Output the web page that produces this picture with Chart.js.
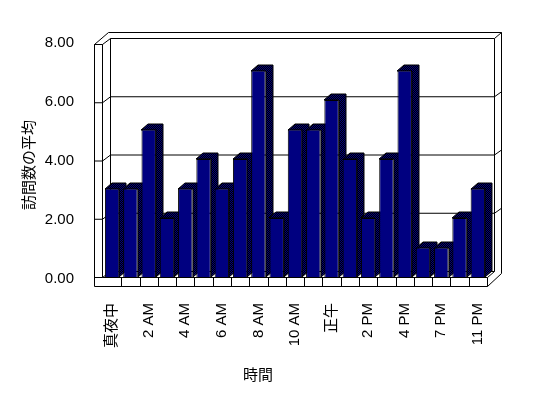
<!DOCTYPE html>
<html>
<head>
<meta charset="utf-8">
<script src="https://cdn.jsdelivr.net/npm/chart.js@4/dist/chart.umd.min.js"></script>
<style>
  html, body { margin: 0; padding: 0; background: #ffffff; }
  #wrap { width: 548px; height: 398px; }
</style>
</head>
<body>
<div id="wrap"><canvas id="chart" width="548" height="398"></canvas></div>
<script>
// categories (hours) and the average visit counts
const hours = ['真夜中', '1 AM', '2 AM', '3 AM', '4 AM', '5 AM', '6 AM', '7 AM', '8 AM', '9 AM',
               '10 AM', '11 AM', '正午', '1 PM', '2 PM', '3 PM', '4 PM', '6 PM', '7 PM', '9 PM', '11 PM'];
const visits = [3, 3, 5, 2, 3, 4, 3, 4, 7, 2, 5, 5, 6, 4, 2, 4, 7, 1, 1, 2, 3];
const yTicks = [0, 2, 4, 6, 8];

const yTitle = '訪問数の平均';
const xTitle = '時間';

const NAVY = '#000080';
const FONT = '"Liberation Sans", Arial, "Noto Sans CJK JP", sans-serif';

// dithered navy/black used for the bar tops and sides
function ditherPattern(ctx) {
    const c = document.createElement('canvas');
    c.width = 2; c.height = 2;
    const p = c.getContext('2d');
    p.fillStyle = '#000000';
    p.fillRect(0, 0, 2, 2);
    p.fillStyle = NAVY;
    p.fillRect(0, 0, 1, 1);
    p.fillRect(1, 1, 1, 1);
    return ctx.createPattern(c, 'repeat');
}

function line(ctx, x1, y1, x2, y2) {
    ctx.beginPath();
    ctx.moveTo(x1, y1);
    ctx.lineTo(x2, y2);
    ctx.stroke();
}

// 3D frame (walls, floor) plus bar tops and sides, drawn behind the bar fronts
const frame3d = {
    id: 'frame3d',
    beforeDatasetsDraw(chart) {
        const ctx = chart.ctx;
        const x = chart.scales.x, y = chart.scales.y;
        const a = chart.chartArea;
        const front = v => y.getPixelForValue(v) + v * 0.375;
        const back = v => front(v) - 6;
        const fl = a.left - 9, fi = a.left - 1, bl = a.left + 7;
        const br = a.right + 7, bo = a.right + 14;
        const floorY = front(0);

        ctx.save();
        ctx.strokeStyle = '#000000';
        ctx.lineWidth = 1;
        ctx.translate(0.5, 0.5);

        // outer top and back wall
        line(ctx, fl, front(8), fi, front(8));
        line(ctx, fl, front(8), bl - 2, back(8) - 6);
        line(ctx, bl - 2, back(8) - 6, bo, back(8) - 6);
        line(ctx, bl, back(8), br, back(8));
        line(ctx, br, back(8), bo, back(8) - 6);
        line(ctx, bl, back(8), bl, back(0));
        line(ctx, br, back(8), br, back(0));
        line(ctx, bo, back(8) - 6, bo, back(0) + 2);

        // left wall front face
        line(ctx, fl, front(8), fl, floorY + 9);
        line(ctx, fi, front(8), fi, floorY);

        // gridlines and ticks
        yTicks.forEach(v => {
            line(ctx, fl, front(v), fi, front(v));
            line(ctx, fi, front(v), bl, back(v));
            if (v > 0 && v < 8) {
                line(ctx, bl, back(v), br, back(v));
                line(ctx, br, back(v), bo, back(v) - 5);
            }
        });

        // floor
        line(ctx, fl, floorY + 9, a.right, floorY + 9);
        line(ctx, fi, floorY, a.right, floorY);
        line(ctx, bl, back(0), br, back(0));
        line(ctx, a.right, floorY, a.right, floorY + 9);
        line(ctx, a.right, floorY, br, back(0));
        line(ctx, a.right, floorY + 9, bo, back(0) + 2);
        const pitch = (a.right - a.left) / hours.length;
        for (let i = 1; i < hours.length; i++) {
            const bx = Math.round(x.getPixelForValue(i) - pitch / 2);
            line(ctx, bx, floorY, bx, floorY + 9);
        }
        ctx.restore();

        // bar tops and sides
        const pat = ditherPattern(ctx);
        const dx = 7, dy = -6;
        ctx.save();
        chart.getDatasetMeta(0).data.forEach(bar => {
            const x0 = Math.round(bar.x - bar.width / 2), x1 = Math.round(bar.x + bar.width / 2);
            const yt = Math.round(bar.y), yb = Math.round(bar.base);
            ctx.fillStyle = pat;
            ctx.strokeStyle = '#000000';
            ctx.beginPath();
            ctx.moveTo(x0, yt);
            ctx.lineTo(x0 + dx, yt + dy);
            ctx.lineTo(x1 + dx, yt + dy);
            ctx.lineTo(x1 + dx, yb + dy);
            ctx.lineTo(x1, yb);
            ctx.lineTo(x1, yt);
            ctx.closePath();
            ctx.fill();
            ctx.stroke();
        });
        ctx.restore();
    },
    afterDraw(chart) {
        const ctx = chart.ctx;
        ctx.save();
        ctx.fillStyle = '#000000';
        ctx.font = '15px ' + FONT;
        ctx.textAlign = 'center';
        ctx.textBaseline = 'middle';
        ctx.fillText(xTitle, 258, 376);
        ctx.translate(30, 165);
        ctx.rotate(-Math.PI / 2);
        ctx.fillText(yTitle, 0, 0);
        ctx.restore();
    }
};

const ctx = document.getElementById('chart').getContext('2d');
new Chart(ctx, {
    type: 'bar',
    data: {
        labels: hours,
        datasets: [{
            data: visits,
            backgroundColor: NAVY,
            borderColor: '#000000',
            borderWidth: 1,
            barPercentage: 0.79,
            categoryPercentage: 1.0
        }]
    },
    options: {
        responsive: false,
        animation: false,
        layout: { padding: { left: 43, top: 41, right: 61, bottom: 0 } },
        plugins: {
            legend: { display: false },
            tooltip: { enabled: false }
        },
        scales: {
            x: {
                grid: { display: false },
                border: { display: false },
                afterFit: scale => { scale.height = 121; },
                ticks: {
                    autoSkip: false,
                    maxRotation: 90,
                    minRotation: 90,
                    padding: 18,
                    color: '#000000',
                    font: { size: 15, family: FONT },
                    callback: (v, i) => i % 2 === 0 ? hours[i] : ''
                }
            },
            y: {
                min: 0,
                max: 8,
                grid: { display: false },
                border: { display: false },
                afterFit: scale => { scale.width = 60; },
                afterBuildTicks: scale => { scale.ticks = yTicks.map(v => ({ value: v })); },
                ticks: {
                    padding: 21,
                    labelOffset: 1.5,
                    color: '#000000',
                    font: { size: 15, family: FONT },
                    callback: v => v.toFixed(2)
                }
            }
        }
    },
    plugins: [frame3d]
});
</script>
</body>
</html>
